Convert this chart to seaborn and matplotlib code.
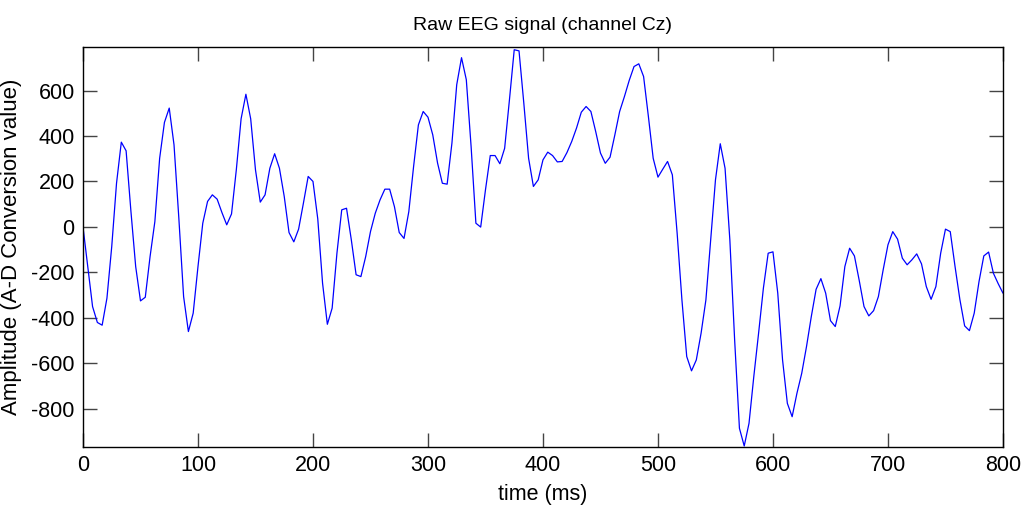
import numpy as np
import pandas as pd
import matplotlib
matplotlib.use("Agg")
import matplotlib.pyplot as plt
import seaborn as sns
from matplotlib import font_manager

# Cz channel, sampled at 240 Hz (one value every 1000/240 ms)
fs_hz = 240
amplitude = [
    0, -175, -351, -421, -433, -314, -87, 192, 373, 335,
    70, -175, -326, -310, -131, 23, 302, 460, 523, 361,
    40, -307, -461, -380, -175, 16, 112, 141, 122, 63,
    9, 57, 251, 476, 584, 476, 251, 109, 141, 258,
    322, 258, 134, -25, -66, -10, 104, 222, 200, 35,
    -248, -429, -358, -116, 75, 82, -57, -211, -219, -131,
    -21, 60, 119, 166, 166, 89, -25, -51, 67, 266,
    449, 508, 483, 405, 281, 192, 188, 369, 626, 745,
    648, 354, 16, -1, 163, 314, 314, 278, 346, 559,
    780, 775, 545, 302, 178, 207, 295, 329, 314, 286,
    288, 327, 376, 435, 505, 530, 508, 420, 325, 280,
    307, 405, 508, 574, 645, 706, 718, 662, 486, 302,
    219, 254, 288, 229, -28, -322, -571, -634, -586, -468,
    -322, -57, 207, 366, 258, -57, -498, -887, -965, -865,
    -659, -468, -270, -116, -110, -292, -586, -777, -836, -733,
    -645, -527, -395, -275, -228, -292, -413, -439, -348, -175,
    -94, -128, -236, -351, -392, -369, -307, -189, -79, -21,
    -54, -138, -167, -145, -119, -163, -263, -319, -263, -116,
    -10, -21, -175, -319, -436, -457, -380, -241, -128, -111,
    -204, -250, -292,
]
time_ms = np.arange(len(amplitude)) * 1000.0 / fs_hz

x_ticks = [0, 100, 200, 300, 400, 500, 600, 700, 800]
y_ticks = [-800, -600, -400, -200, 0, 200, 400, 600]

title_text = "Raw EEG signal (channel Cz)"
x_label = "time (ms)"
y_label = "Amplitude (A-D Conversion value)"

df = pd.DataFrame({"time": time_ms, "amp": amplitude})

sns.set_style("ticks")
available = {f.name for f in font_manager.fontManager.ttflist}
narrow = "Liberation Sans Narrow" if "Liberation Sans Narrow" in available else "Liberation Sans"
plt.rcParams["font.family"] = [narrow, "DejaVu Sans"]

fig = plt.figure(figsize=(10.27, 5.20), dpi=100)
ax = fig.add_axes([0.0808, 0.141, 0.8958, 0.7686])

sns.lineplot(data=df, x="time", y="amp", ax=ax, color="#0000ff",
             linewidth=0.9, estimator=None, sort=False)

ax.set_xlim(0, 800)
ax.set_ylim(-968, 792)
ax.set_xticks(x_ticks)
ax.set_yticks(y_ticks)
ax.set_xticklabels([str(v) for v in x_ticks])
ax.set_yticklabels([str(v) for v in y_ticks])

ax.tick_params(axis="both", direction="in", length=10, width=1.0,
               color="#444444", labelsize=15.5, labelcolor="black",
               top=True, right=True, pad=6)
for side in ["top", "right", "bottom", "left"]:
    ax.spines[side].set_visible(True)
    ax.spines[side].set_color("black")
    ax.spines[side].set_linewidth(1.0)

ax.set_title(title_text, fontsize=14, pad=12, color="black")
ax.set_xlabel(x_label, fontsize=15.5, labelpad=6, color="black")
ax.set_ylabel(y_label, fontsize=16, color="black",
              family=["Liberation Sans", "DejaVu Sans"])
ax.yaxis.set_label_coords(-0.066, 0.5)

fig.savefig("out.png", dpi=100, facecolor="white")
